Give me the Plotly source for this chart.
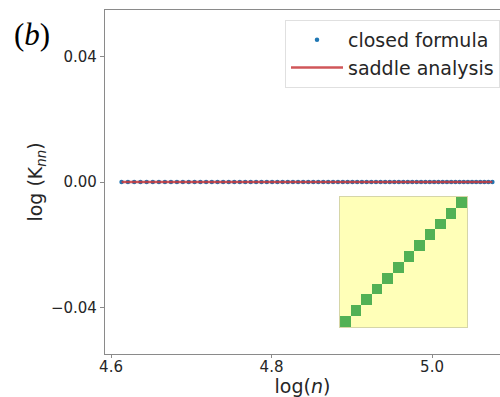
import numpy as np
import plotly.graph_objects as go

# n values (network size), sampled uniformly
n_values = [100.8, 101.6, 102.4, 103.2, 104.0, 104.8, 105.6, 106.4, 107.2, 108.0,
            108.8, 109.6, 110.4, 111.2, 112.0, 112.8, 113.6, 114.4, 115.2, 116.0,
            116.8, 117.6, 118.4, 119.2, 120.0, 120.8, 121.6, 122.4, 123.2, 124.0,
            124.8, 125.6, 126.4, 127.2, 128.0, 128.8, 129.6, 130.4, 131.2, 132.0,
            132.8, 133.6, 134.4, 135.2, 136.0, 136.8, 137.6, 138.4, 139.2, 140.0,
            140.8, 141.6, 142.4, 143.2, 144.0, 144.8, 145.6, 146.4, 147.2, 148.0,
            148.8, 149.6, 150.4, 151.2, 152.0, 152.8, 153.6, 154.4, 155.2, 156.0,
            156.8, 157.6, 158.4, 159.2, 160.0]
closed_formula = [0.0] * 75
saddle_analysis = [0.0] * 75

x_ticks = [4.6, 4.8, 5.0]
y_ticks = [-0.04, 0.0, 0.04]

# inset adjacency-like matrix (green diagonal)
inset_matrix = [
    [1, 0, 0, 0, 0, 0, 0, 0, 0, 0, 0, 0],
    [0, 1, 0, 0, 0, 0, 0, 0, 0, 0, 0, 0],
    [0, 0, 1, 0, 0, 0, 0, 0, 0, 0, 0, 0],
    [0, 0, 0, 1, 0, 0, 0, 0, 0, 0, 0, 0],
    [0, 0, 0, 0, 1, 0, 0, 0, 0, 0, 0, 0],
    [0, 0, 0, 0, 0, 1, 0, 0, 0, 0, 0, 0],
    [0, 0, 0, 0, 0, 0, 1, 0, 0, 0, 0, 0],
    [0, 0, 0, 0, 0, 0, 0, 1, 0, 0, 0, 0],
    [0, 0, 0, 0, 0, 0, 0, 0, 1, 0, 0, 0],
    [0, 0, 0, 0, 0, 0, 0, 0, 0, 1, 0, 0],
    [0, 0, 0, 0, 0, 0, 0, 0, 0, 0, 1, 0],
    [0, 0, 0, 0, 0, 0, 0, 0, 0, 0, 0, 1],
]

log_n = np.log(np.array(n_values))

fig = go.Figure()
fig.add_trace(go.Scatter(
    x=log_n, y=closed_formula, mode="markers", name="closed formula",
    marker=dict(color="#1f77b4", size=4.5),
))
fig.add_trace(go.Scatter(
    x=log_n, y=saddle_analysis, mode="lines", name="saddle analysis",
    line=dict(color="#c8383c", width=2.5),
    opacity=0.85,
))
fig.add_trace(go.Heatmap(
    z=inset_matrix, xaxis="x2", yaxis="y2", showscale=False,
    colorscale=[[0, "#ffffb8"], [1, "#52b155"]], zmin=0, zmax=1,
    hoverinfo="skip", xgap=0, ygap=0,
))

axis_line = "#8a8a8a"
fig.update_layout(
    width=500, height=397,
    margin=dict(l=105, r=0, t=10, b=43),
    paper_bgcolor="white", plot_bgcolor="white",
    font=dict(family="DejaVu Sans", color="#262626", size=15),
    showlegend=True,
    legend=dict(
        x=1.0, xanchor="right", y=0.971, yanchor="top",
        bgcolor="white", bordercolor="#e0e0e0", borderwidth=1,
        font=dict(size=19, family="DejaVu Sans"),
        itemwidth=52, tracegroupgap=0,
    ),
    xaxis=dict(
        range=[4.5925, 5.0847], tickvals=x_ticks, tickformat=".1f",
        showgrid=False, zeroline=False, showline=True, linecolor=axis_line,
        linewidth=1.3, mirror=True, ticks="outside", ticklen=3, tickcolor=axis_line,
        ticklabelstandoff=-4,
        title=dict(text="log(<i>n</i>)", font=dict(size=19), standoff=0),
    ),
    yaxis=dict(
        range=[-0.0548, 0.0548], tickvals=y_ticks, tickformat=".2f",
        showgrid=False, zeroline=False, showline=True, linecolor=axis_line,
        linewidth=1.3, ticks="outside", ticklen=4, tickcolor=axis_line,
        title=dict(text="log (K<sub><i>nn</i></sub>)", font=dict(size=19), standoff=3),
    ),
    xaxis2=dict(
        domain=[0.595, 0.9165], anchor="y2", range=[-0.5, 11.5],
        showticklabels=False, ticks="", showgrid=False, zeroline=False,
        showline=True, linecolor="#d6d6a8", linewidth=1, mirror=True,
    ),
    yaxis2=dict(
        domain=[0.0785, 0.4564], anchor="x2", range=[-0.5, 11.5],
        showticklabels=False, ticks="", showgrid=False, zeroline=False,
        showline=True, linecolor="#d6d6a8", linewidth=1, mirror=True,
    ),
    annotations=[dict(
        text="(<i>b</i>)", xref="paper", yref="paper", x=-0.235, y=0.985,
        xanchor="left", yanchor="top", showarrow=False,
        font=dict(family="Liberation Serif", size=31, color="black"),
    )],
)

fig.write_html("out.html")
